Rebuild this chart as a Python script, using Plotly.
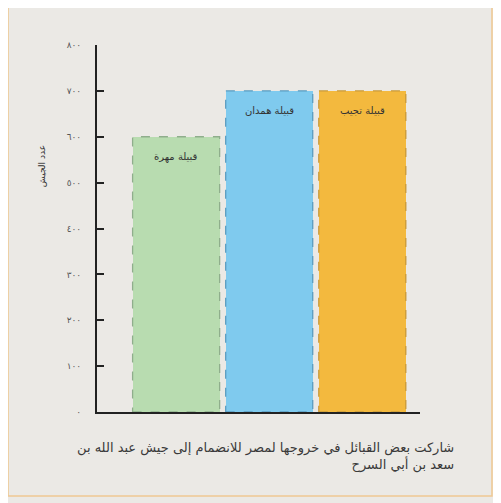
import plotly.graph_objects as go

# data
tribes = ["قبيلة مهرة", "قبيلة همدان", "قبيلة تجيب"]
army_size = [600, 700, 700]
bar_colors = ["#b8dcb0", "#7fcaee", "#f3b93e"]
edge_colors = ["#8fae8c", "#5b9cc0", "#c99a3a"]
tick_values = [0, 100, 200, 300, 400, 500, 600, 700, 800]
tick_labels = ["٠", "١٠٠", "٢٠٠", "٣٠٠", "٤٠٠", "٥٠٠", "٦٠٠", "٧٠٠", "٨٠٠"]
y_title = "عدد الجيش"
caption = "شاركت بعض القبائل في خروجها لمصر للانضمام إلى جيش عبد الله بن<br>سعد بن أبي السرح"

font_family = "DejaVu Sans"
bar_width = 0.935
positions = list(range(len(tribes)))

fig = go.Figure()

fig.add_trace(
    go.Bar(
        x=positions,
        y=army_size,
        width=bar_width,
        marker=dict(color=bar_colors, line=dict(width=0)),
        hoverinfo="skip",
    )
)

# dashed outlines around each bar
for i, value in enumerate(army_size):
    fig.add_shape(
        type="rect",
        xref="x", yref="y",
        x0=positions[i] - bar_width / 2,
        x1=positions[i] + bar_width / 2,
        y0=0, y1=value,
        line=dict(color=edge_colors[i], width=1.3, dash="dash"),
        layer="above",
    )
    fig.add_annotation(
        x=positions[i], y=value,
        text=tribes[i],
        showarrow=False,
        yshift=-20,
        font=dict(family=font_family, size=10, color="#333333"),
    )

# outer frame
fig.add_shape(
    type="rect",
    xref="paper", yref="paper",
    x0=-0.2755, x1=1.2229, y0=-0.2289, y1=1.1117,
    line=dict(color="#efc892", width=1.5),
    layer="below",
)

fig.add_annotation(
    xref="paper", yref="paper",
    x=-0.17, y=0.67,
    xanchor="center", yanchor="middle",
    text=y_title,
    textangle=-90,
    showarrow=False,
    font=dict(family=font_family, size=9, color="#333333"),
)

fig.add_annotation(
    xref="paper", yref="paper",
    x=1.11, y=-0.07,
    xanchor="right", yanchor="top",
    align="right",
    text=caption,
    showarrow=False,
    font=dict(family=font_family, size=13, color="#3a3a3a"),
)

fig.update_layout(
    width=493,
    height=495,
    margin=dict(l=89, r=81, t=37, b=91),
    paper_bgcolor="#ebe9e5",
    plot_bgcolor="#ebe9e5",
    showlegend=False,
    bargap=0,
)

fig.update_xaxes(
    range=[-0.85, 2.62],
    showticklabels=False,
    showgrid=False,
    zeroline=False,
    showline=True,
    linecolor="#222222",
    linewidth=2,
    ticks="",
)

fig.update_yaxes(
    range=[0, 800],
    tickvals=tick_values,
    ticktext=tick_labels,
    showgrid=False,
    zeroline=False,
    showline=True,
    linecolor="#222222",
    linewidth=2,
    ticks="inside",
    ticklen=7,
    tickwidth=2,
    tickcolor="#222222",
    ticklabelstandoff=12,
    tickfont=dict(family=font_family, size=9, color="#555555"),
)

fig.write_html("out.html")
